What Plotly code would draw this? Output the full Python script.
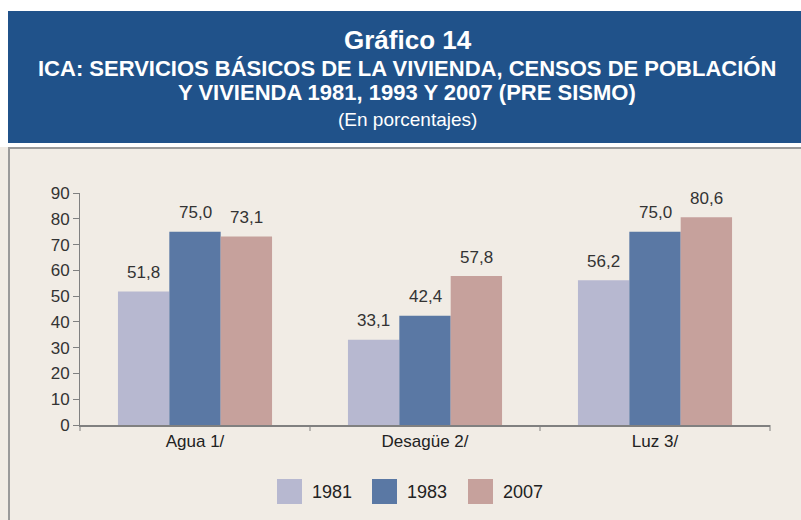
import plotly.graph_objects as go

categories = ["Agua 1/", "Desagüe 2/", "Luz 3/"]
years = ["1981", "1983", "2007"]
v1981 = [51.8, 33.1, 56.2]
v1983 = [75.0, 42.4, 75.0]
v2007 = [73.1, 57.8, 80.6]
colors = ["#b7b8d0", "#5a78a4", "#c6a19c"]
y_ticks = [0, 10, 20, 30, 40, 50, 60, 70, 80, 90]

W, H = 801, 520
L, R, T, B = 80, 31, 193, 95
pw, ph = W - L - R, H - T - B
BARGAP = 0.33
FONT = "Liberation Sans, Arial"

def px(x):
    return (x - L) / pw

def py(y):
    return (H - B - y) / ph

fig = go.Figure()
series = [v1981, v1983, v2007]
for name, vals, col in zip(years, series, colors):
    fig.add_trace(go.Bar(
        x=categories, y=vals, name=name, marker=dict(color=col, line=dict(width=0)),
        showlegend=False,
    ))

shapes = [
    dict(type="rect", xref="paper", yref="paper", x0=px(-5), x1=px(W + 5), y0=py(147), y1=py(-5),
         fillcolor="white", line=dict(width=0), layer="below"),
    dict(type="rect", xref="paper", yref="paper", x0=px(8), x1=px(W + 5), y0=py(143), y1=py(11),
         fillcolor="#20528a", line=dict(width=0), layer="below"),
    dict(type="line", xref="paper", yref="paper", x0=px(8), x1=px(W + 5), y0=py(148), y1=py(148),
         line=dict(color="#9a9a9a", width=2)),
    dict(type="line", xref="paper", yref="paper", x0=px(9), x1=px(9), y0=py(148), y1=py(H + 5),
         line=dict(color="#9a9a9a", width=2)),
]

def title_ann(text, xc, yc, size):
    return dict(text=text, x=px(xc), y=py(yc), xref="paper", yref="paper",
                xanchor="center", yanchor="middle", showarrow=False,
                font=dict(size=size, color="white", family=FONT))

annotations = [
    title_ann("<b>Gráfico 14</b>", 408, 40, 26),
    title_ann("<b>ICA: SERVICIOS BÁSICOS DE LA VIVIENDA, CENSOS DE POBLACIÓN</b>", 407, 68, 22),
    title_ann("<b>Y VIVIENDA 1981, 1993 Y 2007 (PRE SISMO)</b>", 407, 93, 22),
    title_ann("(En porcentajes)", 407, 119, 19),
]

# value labels above bars
cat_w = pw / len(categories)
bar_w = cat_w * (1 - BARGAP) / len(series)
for i, (vals, col) in enumerate(zip(series, colors)):
    for cat, v in zip(categories, vals):
        annotations.append(dict(
            text=f"{v:.1f}".replace(".", ","), x=cat, y=v, xref="x", yref="y",
            xanchor="center", yanchor="middle",
            xshift=(i - 1) * bar_w, yshift=19, showarrow=False,
            font=dict(size=17, color="#333333", family=FONT)))

# custom legend
leg_x = [277, 372, 468]
for xs, name, col in zip(leg_x, years, colors):
    shapes.append(dict(type="rect", xref="paper", yref="paper", x0=px(xs), x1=px(xs + 25),
                       y0=py(504), y1=py(479), fillcolor=col, line=dict(width=0)))
    annotations.append(dict(text=name, x=px(xs + 33), y=py(492), xref="paper", yref="paper",
                            xanchor="left", yanchor="middle", showarrow=False,
                            font=dict(size=18, color="#222222", family=FONT)))

# category divider ticks on the x axis
for i in range(len(categories) + 1):
    xp = i / len(categories)
    shapes.append(dict(type="line", xref="paper", yref="paper", x0=xp, x1=xp,
                       y0=0, y1=py(H - B + 6), line=dict(color="#808080", width=1)))

fig.update_layout(
    width=W, height=H, margin=dict(l=L, r=R, t=T, b=B, pad=0),
    paper_bgcolor="#f1ece5", plot_bgcolor="#f1ece5",
    barmode="group", bargap=BARGAP, bargroupgap=0,
    font=dict(family=FONT, color="#333333"),
    shapes=shapes, annotations=annotations, showlegend=False,
    xaxis=dict(showgrid=False, showline=True, linecolor="#808080", linewidth=1.5,
               ticks="", tickfont=dict(size=17, color="#222222"), fixedrange=True),
    yaxis=dict(range=[0, 90], tickvals=y_ticks, showgrid=False, zeroline=False,
               showline=True, linecolor="#808080", linewidth=1, ticks="outside",
               ticklen=6, tickcolor="#808080", tickfont=dict(size=17, color="#333333"),
               fixedrange=True),
)

fig.write_html("out.html", config={"displayModeBar": False},
               post_script="document.body.style.margin='0';document.body.style.overflow='hidden';")
